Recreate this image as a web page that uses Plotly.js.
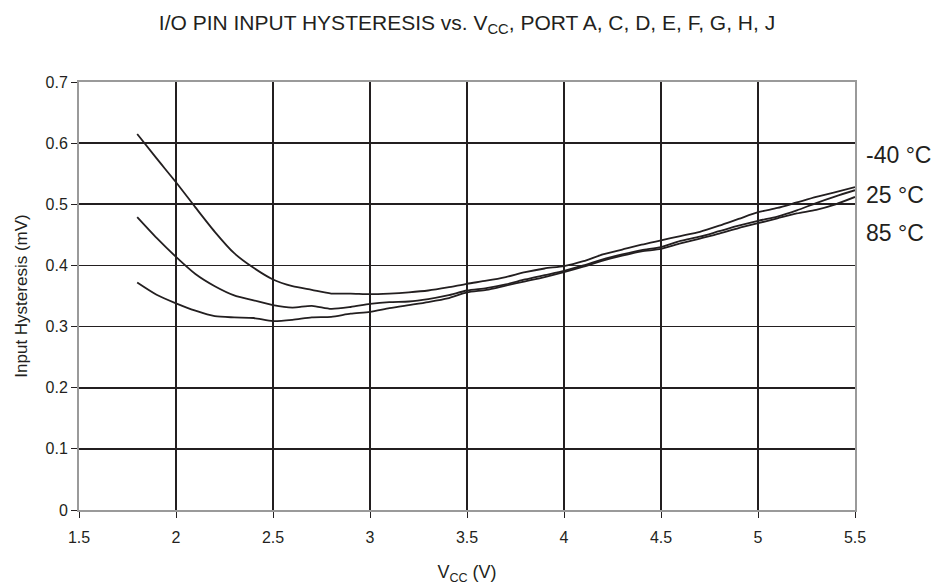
<!DOCTYPE html>
<html>
<head>
<meta charset="utf-8">
<script src="https://cdn.plot.ly/plotly-3.0.1.min.js"></script>
<style>html,body{margin:0;padding:0;background:#fff;}#chart{width:943px;height:588px;}</style>
</head>
<body>
<div id="chart"></div>
<script>
const vcc = [1.8,1.9,2.0,2.1,2.2,2.3,2.4,2.5,2.6,2.7,2.8,2.9,3.0,3.1,3.2,3.3,3.4,3.5,3.6,3.7,3.8,3.9,4.0,4.1,4.2,4.3,4.4,4.5,4.6,4.7,4.8,4.9,5.0,5.1,5.2,5.3,5.4,5.5];
const hystM40 = [0.615,0.575,0.536,0.495,0.455,0.420,0.396,0.377,0.366,0.360,0.354,0.354,0.353,0.354,0.356,0.359,0.364,0.370,0.375,0.381,0.389,0.395,0.399,0.407,0.418,0.426,0.434,0.441,0.448,0.455,0.465,0.476,0.487,0.494,0.503,0.512,0.520,0.528];
const hyst25 = [0.479,0.445,0.414,0.386,0.366,0.351,0.343,0.335,0.331,0.334,0.329,0.332,0.337,0.340,0.341,0.345,0.351,0.359,0.363,0.369,0.377,0.384,0.391,0.400,0.410,0.418,0.425,0.430,0.440,0.447,0.456,0.465,0.473,0.480,0.490,0.502,0.513,0.523];
const hyst85 = [0.372,0.352,0.338,0.326,0.317,0.315,0.314,0.309,0.311,0.315,0.316,0.321,0.324,0.330,0.335,0.340,0.346,0.356,0.360,0.367,0.374,0.381,0.389,0.398,0.408,0.416,0.423,0.427,0.436,0.444,0.452,0.461,0.469,0.477,0.485,0.491,0.500,0.512];
const seriesLabels = ['-40 °C','25 °C','85 °C'];
const labelY = [0.581,0.516,0.453];
const xTicks = [1.5,2,2.5,3,3.5,4,4.5,5,5.5];
const yTicks = [0,0.1,0.2,0.3,0.4,0.5,0.6,0.7];

const ink = '#231f20';
const font = 'Liberation Sans, Arial, Helvetica, sans-serif';
const series = [hystM40, hyst25, hyst85];
const traces = series.map((ys,i)=>({
  x: vcc, y: ys, type:'scatter', mode:'lines', name: seriesLabels[i],
  line:{color:ink, width:1.8, shape:'spline', smoothing:0.7}, showlegend:false, hoverinfo:'skip'
}));
const annotations = seriesLabels.map((t,i)=>({
  text:t, xref:'paper', yref:'y', x:1.012, y:labelY[i], xanchor:'left', yanchor:'middle',
  showarrow:false, font:{family:font, size:23, color:ink}
}));
const layout = {
  width:943, height:588,
  margin:{l:79, r:88, t:82, b:78},
  paper_bgcolor:'#fff', plot_bgcolor:'#fff',
  font:{family:font, color:ink, size:16},
  title:{text:'I/O PIN INPUT HYSTERESIS vs. V<sub>CC</sub>, PORT A, C, D, E, F, G, H, J', x:0.5, xref:'paper', y:0.962, yanchor:'middle', font:{family:font, size:21, color:ink}},
  xaxis:{range:[1.5,5.5], tickvals:xTicks, ticktext:xTicks.map(String), ticks:'outside', ticklen:6, tickcolor:ink, tickwidth:1,
    ticklabelstandoff:6,
    showgrid:true, gridcolor:ink, gridwidth:1.8, showline:true, linecolor:'#9a9a9a', linewidth:2, mirror:true, zeroline:false,
    tickfont:{family:font, size:16, color:ink},
    title:{text:'V<sub>CC</sub> (V)', font:{family:font, size:18, color:ink}, standoff:20}},
  yaxis:{range:[0,0.7], tickvals:yTicks, ticktext:yTicks.map(String), ticks:'outside', ticklen:6, tickcolor:ink, tickwidth:1,
    showgrid:true, gridcolor:ink, gridwidth:1.8, showline:true, linecolor:'#9a9a9a', linewidth:2, mirror:true,
    zeroline:true, zerolinecolor:ink, zerolinewidth:2,
    tickfont:{family:font, size:16, color:ink},
    title:{text:'Input Hysteresis (mV)', font:{family:font, size:17, color:ink}, standoff:14}},
  annotations: annotations
};
Plotly.newPlot('chart', traces, layout, {staticPlot:true, displayModeBar:false});
</script>
</body>
</html>
